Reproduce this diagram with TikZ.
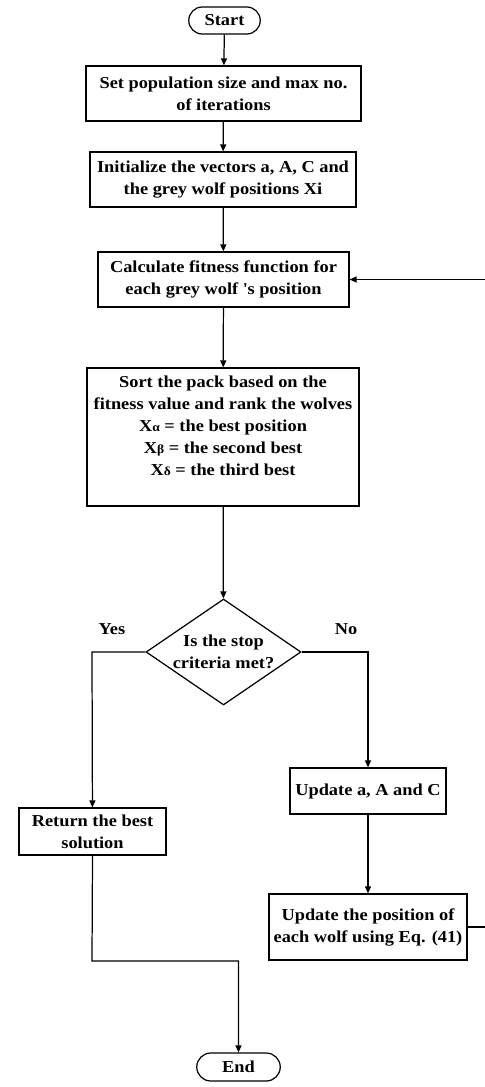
\documentclass[tikz,border=0pt]{standalone}
\usepackage{fontspec}
\setmainfont{Liberation Serif}[FakeStretch=1.1]
\usetikzlibrary{shapes.geometric, shapes.misc, arrows.meta}
\tikzset{
	startstop/.style={rounded rectangle, draw=black, line width=0.7pt, minimum width=1.5cm, minimum height=0.54cm, inner sep=1pt, align=center},
	process/.style  ={rectangle, draw=black, line width=0.7pt, align=center, inner sep=1pt},
	decision/.style ={diamond, aspect=1.46, draw=black, line width=0.7pt, minimum width=3.1cm, minimum height=2.12cm, inner sep=-2pt, align=center},
	flowarrow/.style={-{Triangle[length=1.4mm, width=1.2mm]}, line width=0.7pt},
}
\newcommand{\gsub}[1]{{\fontsize{7}{8}\selectfont #1}}
\begin{document}
\begin{tikzpicture}[x=0.02cm, y=-0.02cm, font=\fontsize{9.5}{12.5}\selectfont\bfseries]
	\useasboundingbox (0,0) rectangle (484,1087);
	% main column
	\node[startstop] (start) at (224.5,20.5) {Start};
	\node[process, minimum width=5.5cm, minimum height=1.1cm] (setpop) at (223.5,93.5) {Set population size and max no.\\of iterations};
	\node[process, minimum width=5.32cm, minimum height=1.1cm] (init) at (223,179.5) {Initialize the vectors a, A, C and\\the grey wolf positions Xi};
	\node[process, minimum width=5.02cm, minimum height=1.1cm] (fitness) at (223.5,279.5) {Calculate fitness function for\\each grey wolf \textquotesingle s position};
	\node[process, minimum width=5.44cm, minimum height=2.76cm] (sort) at (223,437) {Sort the pack based on the\\fitness value and rank the wolves\\X\gsub{α} = the best position\\X\gsub{β} = the second best\\X\gsub{δ} = the third best\\ \mbox{}};
	\node[decision] (stop) at (223.5,652) {Is the stop\\criteria met?};
	\node (yes) at (112,629) {Yes};
	\node (no) at (346,629) {No};
	% branches
	\node[process, minimum width=2.94cm, minimum height=0.94cm] (best) at (92.5,831.5) {Return the best\\solution};
	\node[process, minimum width=3.12cm, minimum height=0.92cm] (upd) at (368,791) {Update a, A and C};
	\node[process, minimum width=3.96cm, minimum height=1.32cm] (updpos) at (368,927) {Update the position of\\each wolf using Eq. (41)};
	\node[startstop, minimum width=1.74cm, minimum height=0.56cm] (end) at (238.5,1067) {End};
	% corner points
	\coordinate (yescorner) at (92,652);
	\coordinate (nocorner) at (368,652);
	\coordinate (loopbot) at (486,927);
	\coordinate (looptop) at (486,279.5);
	\coordinate (joinleft) at (92,961);
	\coordinate (joinright) at (238.5,961);
	% connectors
	\draw[flowarrow] (start) -- (setpop);
	\draw[flowarrow] (setpop) -- (init);
	\draw[flowarrow] (init) -- (fitness);
	\draw[flowarrow] (fitness) -- (sort);
	\draw[flowarrow] (sort) -- (stop);
	\draw[flowarrow] (stop.west) -- (yescorner) -- (best);
	\draw[flowarrow] (stop.east) -- (nocorner) -- (upd);
	\draw[flowarrow] (upd) -- (updpos);
	\draw[flowarrow] (updpos.east) -- (loopbot) -- (looptop) -- (fitness.east);
	\draw[flowarrow] (best.south) -- (joinleft) -- (joinright) -- (end.north);
\end{tikzpicture}
\end{document}
